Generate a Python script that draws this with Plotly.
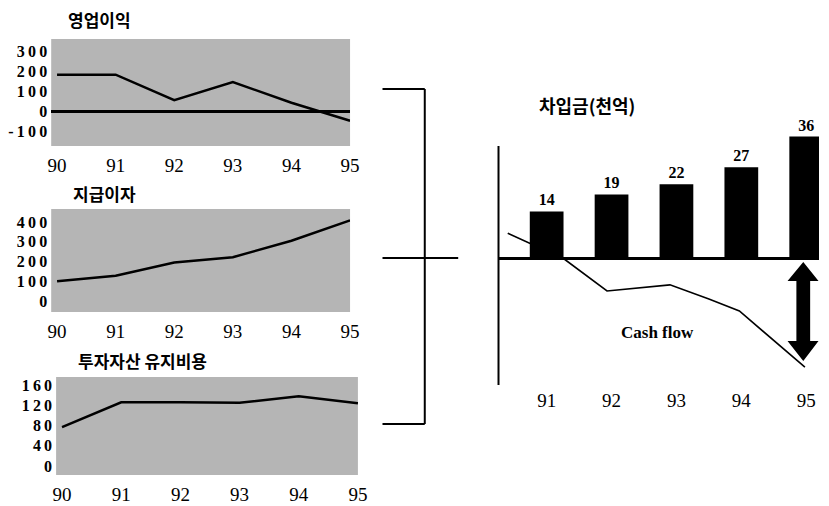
import plotly.graph_objects as go

# ---------------- data ----------------
years = [90, 91, 92, 93, 94, 95]
op_profit = [185, 185, 58, 148, 45, -45]          # 영업이익
interest = [100, 128, 195, 222, 305, 408]          # 지급이자
holding_cost = [77, 126, 126, 125, 138, 124]       # 투자자산 유지비용

debt_years = [91, 92, 93, 94, 95]
debt = [14, 19, 22, 27, 36]                        # 차입금(천억)

cf_x = [90.4, 91.27, 91.93, 92.9, 93.5, 93.97, 94.98]
cf_y = [7.6, 0, -9.4, -7.6, -11.8, -15.3, -31.8]   # Cash flow

ticks1 = [-100, 0, 100, 200, 300]
ticks2 = [0, 100, 200, 300, 400]
ticks3 = [0, 40, 80, 120, 160]

titles = ["영업이익", "지급이자", "투자자산 유지비용"]
right_title = "차입금(천억)"
cf_label = "Cash flow"

# ---------------- layout helpers ----------------
W, H = 829, 506
def px(x):
    return x / W
def py(y):
    return 1 - y / H
def dx(a, b):
    return [px(a), px(b)]
def dy(top, bottom):
    return [py(bottom), py(top)]

SERIF = "Liberation Serif"
KR = "Noto Sans CJK KR"
BG = "#b5b5b5"
THIN = "\u2009"

fig = go.Figure()

for i, vals in enumerate([op_profit, interest, holding_cost]):
    sfx = "" if i == 0 else str(i + 1)
    fig.add_trace(go.Scatter(x=years, y=vals, mode="lines",
                             line=dict(color="black", width=2.5),
                             xaxis="x" + sfx, yaxis="y" + sfx,
                             showlegend=False, hoverinfo="skip"))

fig.add_trace(go.Scatter(x=cf_x, y=cf_y, mode="lines",
                         line=dict(color="black", width=1.6),
                         xaxis="x4", yaxis="y4", showlegend=False))
fig.add_trace(go.Bar(x=debt_years, y=debt, width=0.52,
                     marker=dict(color="black", line=dict(width=0)),
                     text=[str(v) for v in debt], textposition="outside",
                     textfont=dict(family=SERIF, size=16, color="black", weight="bold"),
                     cliponaxis=True, xaxis="x4", yaxis="y4", showlegend=False))

xtick_font = dict(family=SERIF, size=19, color="black")
ytick_font = dict(family=SERIF, size=16, color="black", weight="bold")

def xax(domain, anchor):
    return dict(domain=domain, range=[89.9, 95], tickvals=years,
                ticktext=[str(y) for y in years], tickfont=xtick_font,
                showgrid=False, zeroline=False, showline=False, ticks="",
                ticklabelstandoff=6, fixedrange=True, anchor=anchor)

def yax(domain, rng, tv, anchor, zl=False):
    return dict(domain=domain, range=rng, tickvals=tv,
                ticktext=[THIN.join(str(v)) for v in tv], tickfont=ytick_font,
                showgrid=False, zeroline=zl, zerolinecolor="black",
                zerolinewidth=2.5, showline=False, ticks="",
                ticklabelstandoff=3, anchor=anchor, fixedrange=True)

fig.update_layout(
    width=W, height=H, margin=dict(l=0, r=0, t=0, b=0),
    paper_bgcolor="white", plot_bgcolor="white", showlegend=False,
    xaxis=xax(dx(48, 352), "y"),
    yaxis=yax(dy(39, 146), [-171.5, 363.5], ticks1, "x", zl=True),
    xaxis2=xax(dx(48, 352), "y2"),
    yaxis2=yax(dy(209, 312), [-55.7, 465.8], ticks2, "x2"),
    xaxis3=xax(dx(53, 360), "y3"),
    yaxis3=yax(dy(377, 475), [-17.8, 175.9], ticks3, "x3"),
    xaxis4=dict(domain=dx(503, 829), range=[90.258, 95.197], anchor="y4",
                tickvals=debt_years, ticktext=[str(v) for v in debt_years],
                tickfont=xtick_font, showgrid=False, zeroline=False,
                showline=False, ticks="", ticklabelstandoff=2, fixedrange=True),
    yaxis4=dict(domain=dy(120, 385), range=[-37.06, 40.88], anchor="x4",
                showticklabels=False, showgrid=False, zeroline=True,
                zerolinecolor="black", zerolinewidth=2.5, showline=False,
                ticks="", fixedrange=True),
)

shapes = []
for sfx in ["", "2", "3"]:
    shapes.append(dict(type="rect", xref=f"x{sfx} domain", yref=f"y{sfx} domain",
                       x0=0, x1=1, y0=0, y1=1, fillcolor=BG, line=dict(width=0),
                       layer="below"))
bl = dict(color="black", width=2)
shapes += [
    dict(type="line", xref="paper", yref="paper", x0=px(385), x1=px(428), y0=py(89), y1=py(89), line=bl),
    dict(type="line", xref="paper", yref="paper", x0=px(428), x1=px(428), y0=py(89), y1=py(424), line=bl),
    dict(type="line", xref="paper", yref="paper", x0=px(385), x1=px(428), y0=py(424), y1=py(424), line=bl),
    dict(type="line", xref="paper", yref="paper", x0=px(385), x1=px(462), y0=py(258), y1=py(258), line=bl),
    dict(type="line", xref="paper", yref="paper", x0=px(503), x1=px(503), y0=py(146), y1=py(385), line=bl),
]
pts = [(813, 262), (828.5, 281), (820, 281), (820, 341), (828.5, 341), (813, 361),
       (797, 341), (806, 341), (806, 281), (797, 281)]
path = "M " + " L ".join(f"{px(a):.5f},{py(b):.5f}" for a, b in pts) + " Z"
shapes.append(dict(type="path", xref="paper", yref="paper", path=path,
                   fillcolor="black", line=dict(width=0)))
fig.update_layout(shapes=shapes)

ann = []
title_pos = [(97, 20), (102, 193), (141, 360)]
for t, (x, y) in zip(titles, title_pos):
    ann.append(dict(text=t, x=px(x), y=py(y), xref="paper", yref="paper",
                    showarrow=False, xanchor="center", yanchor="middle",
                    font=dict(family=KR, size=17, color="black", weight="bold")))
ann.append(dict(text=right_title, x=px(593), y=py(105), xref="paper", yref="paper",
                showarrow=False, xanchor="center", yanchor="middle",
                font=dict(family=KR, size=18, color="black", weight="bold")))
ann.append(dict(text=cf_label, x=px(665), y=py(332), xref="paper", yref="paper",
                showarrow=False, xanchor="center", yanchor="middle",
                font=dict(family=SERIF, size=17, color="black", weight="bold")))
fig.update_layout(annotations=ann)

# remove the default 8px page margin so the figure fills the window exactly
fig.write_html("out.html",
               config={"displayModeBar": False},
               post_script="document.documentElement.style.margin='0';"
                           "document.documentElement.style.overflow='hidden';"
                           "document.body.style.margin='0';"
                           "document.body.style.overflow='hidden';")
